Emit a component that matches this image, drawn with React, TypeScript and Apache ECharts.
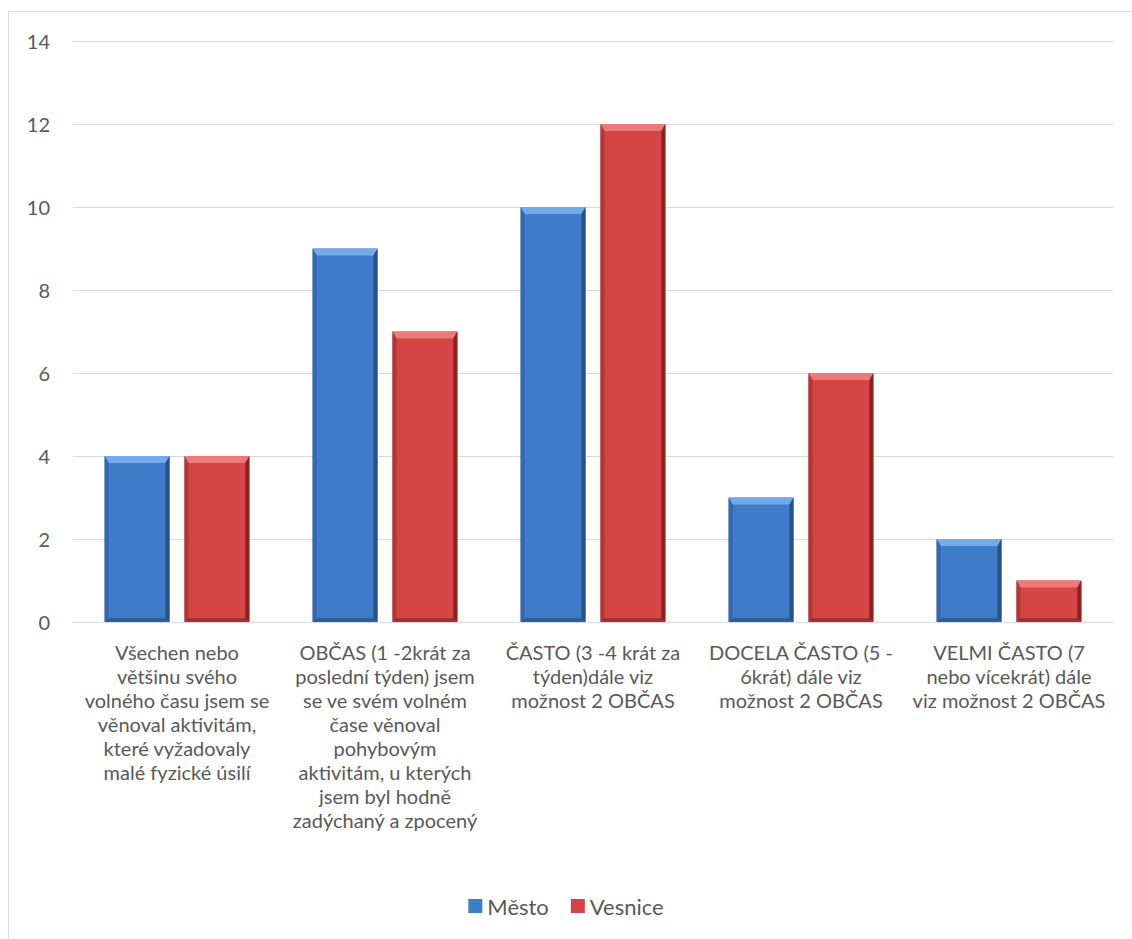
import React, { useEffect, useRef } from "react";
import * as echarts from "echarts";

const categories = [
  "Všechen nebo\nvětšinu svého\nvolného času jsem se\nvěnoval aktivitám,\nkteré vyžadovaly\nmalé fyzické úsilí",
  "OBČAS (1 -2krát za\nposlední týden) jsem\nse ve svém volném\nčase věnoval\npohybovým\naktivitám, u kterých\njsem byl hodně\nzadýchaný a zpocený",
  "ČASTO (3 -4 krát za\ntýden)dále viz\nmožnost 2 OBČAS",
  "DOCELA ČASTO (5 -\n6krát) dále viz\nmožnost 2 OBČAS",
  "VELMI ČASTO (7\nnebo vícekrát) dále\nviz možnost 2 OBČAS",
];
const mestoValues = [4, 9, 10, 3, 2];
const vesniceValues = [4, 7, 12, 6, 1];
const seriesNames = ["Město", "Vesnice"];

const palettes = [
  { main: "#3e7cc8", light: "#74aaea", left: "#3068b0", dark: "#264f8a", bottom: "#2d5f9c" },
  { main: "#d44443", light: "#ec7a7a", left: "#b83535", dark: "#852222", bottom: "#a23030" },
];

export default function App() {
  const ref = useRef<HTMLDivElement>(null);
  useEffect(() => {
    if (!ref.current) return;
    const chart = echarts.init(ref.current, undefined, { renderer: "svg" });
    const makeRender = (si: number) => (params: any, api: any) => {
      const idx = api.value(0);
      const v = api.value(1);
      const base = api.coord([idx, 0]);
      const top = api.coord([idx, v]);
      const band = api.size([1, 0])[0];
      const w = band * 0.312;
      const off = band * 0.192 * (si === 0 ? -1 : 1);
      const x0 = base[0] + off - w / 2;
      const x1 = x0 + w;
      const y0 = top[1];
      const y1 = base[1];
      const p = palettes[si];
      const bt = 7;
      const bs = 4;
      return {
        type: "group",
        children: [
          { type: "rect", shape: { x: x0, y: y0, width: w, height: y1 - y0 }, style: { fill: p.main } },
          { type: "polygon", shape: { points: [[x0, y0], [x1, y0], [x1 - bs, y0 + bt], [x0 + bs, y0 + bt]] }, style: { fill: p.light } },
          { type: "polygon", shape: { points: [[x0, y0], [x0 + bs, y0 + bt], [x0 + bs, y1 - bs], [x0, y1]] }, style: { fill: p.left } },
          { type: "polygon", shape: { points: [[x1, y0], [x1, y1], [x1 - bs, y1 - bs], [x1 - bs, y0 + bt]] }, style: { fill: p.dark } },
          { type: "polygon", shape: { points: [[x0, y1], [x1, y1], [x1 - bs, y1 - bs], [x0 + bs, y1 - bs]] }, style: { fill: p.bottom } },
        ],
      };
    };
    const series = [mestoValues, vesniceValues].map((vals, si) => ({
      type: "custom",
      name: seriesNames[si],
      renderItem: makeRender(si),
      itemStyle: { color: palettes[si].main },
      encode: { x: 0, y: 1 },
      data: vals.map((v, i) => [i, v]),
    }));
    chart.setOption({
      animation: false,
      textStyle: { fontFamily: "Lato" },
      graphic: [
        {
          type: "rect",
          z: -10,
          shape: { x: 8.5, y: 11.5, width: 1300, height: 1100 },
          style: { fill: "none", stroke: "#d9d9d9", lineWidth: 1 },
        },
      ],
      grid: { left: 73, right: 19, top: 41, bottom: 317, containLabel: false },
      legend: {
        bottom: 17,
        left: "center",
        itemWidth: 14,
        itemHeight: 14,
        itemGap: 22,
        itemStyle: { borderWidth: 0 },
        icon: "rect",
        textStyle: { fontSize: 22, color: "#595959", fontFamily: "Lato" },
        data: seriesNames,
      },
      xAxis: {
        type: "category",
        data: categories,
        axisLine: { show: true, lineStyle: { color: "#d9d9d9", width: 1 } },
        axisTick: { show: false },
        axisLabel: {
          interval: 0,
          color: "#595959",
          fontSize: 20,
          lineHeight: 24,
          margin: 18,
          fontFamily: "Lato",
        },
      },
      yAxis: {
        type: "value",
        min: 0,
        max: 14,
        interval: 2,
        axisLine: { show: false },
        axisTick: { show: false },
        splitLine: { lineStyle: { color: "#d9d9d9", width: 1 } },
        axisLabel: { color: "#595959", fontSize: 20, margin: 23, fontFamily: "Lato" },
      },
      series,
    });
    return () => chart.dispose();
  }, []);
  return (
    <div
      ref={ref}
      style={{ position: "absolute", left: 0, top: 0, width: 1132, height: 939, background: "#fff" }}
    />
  );
}
